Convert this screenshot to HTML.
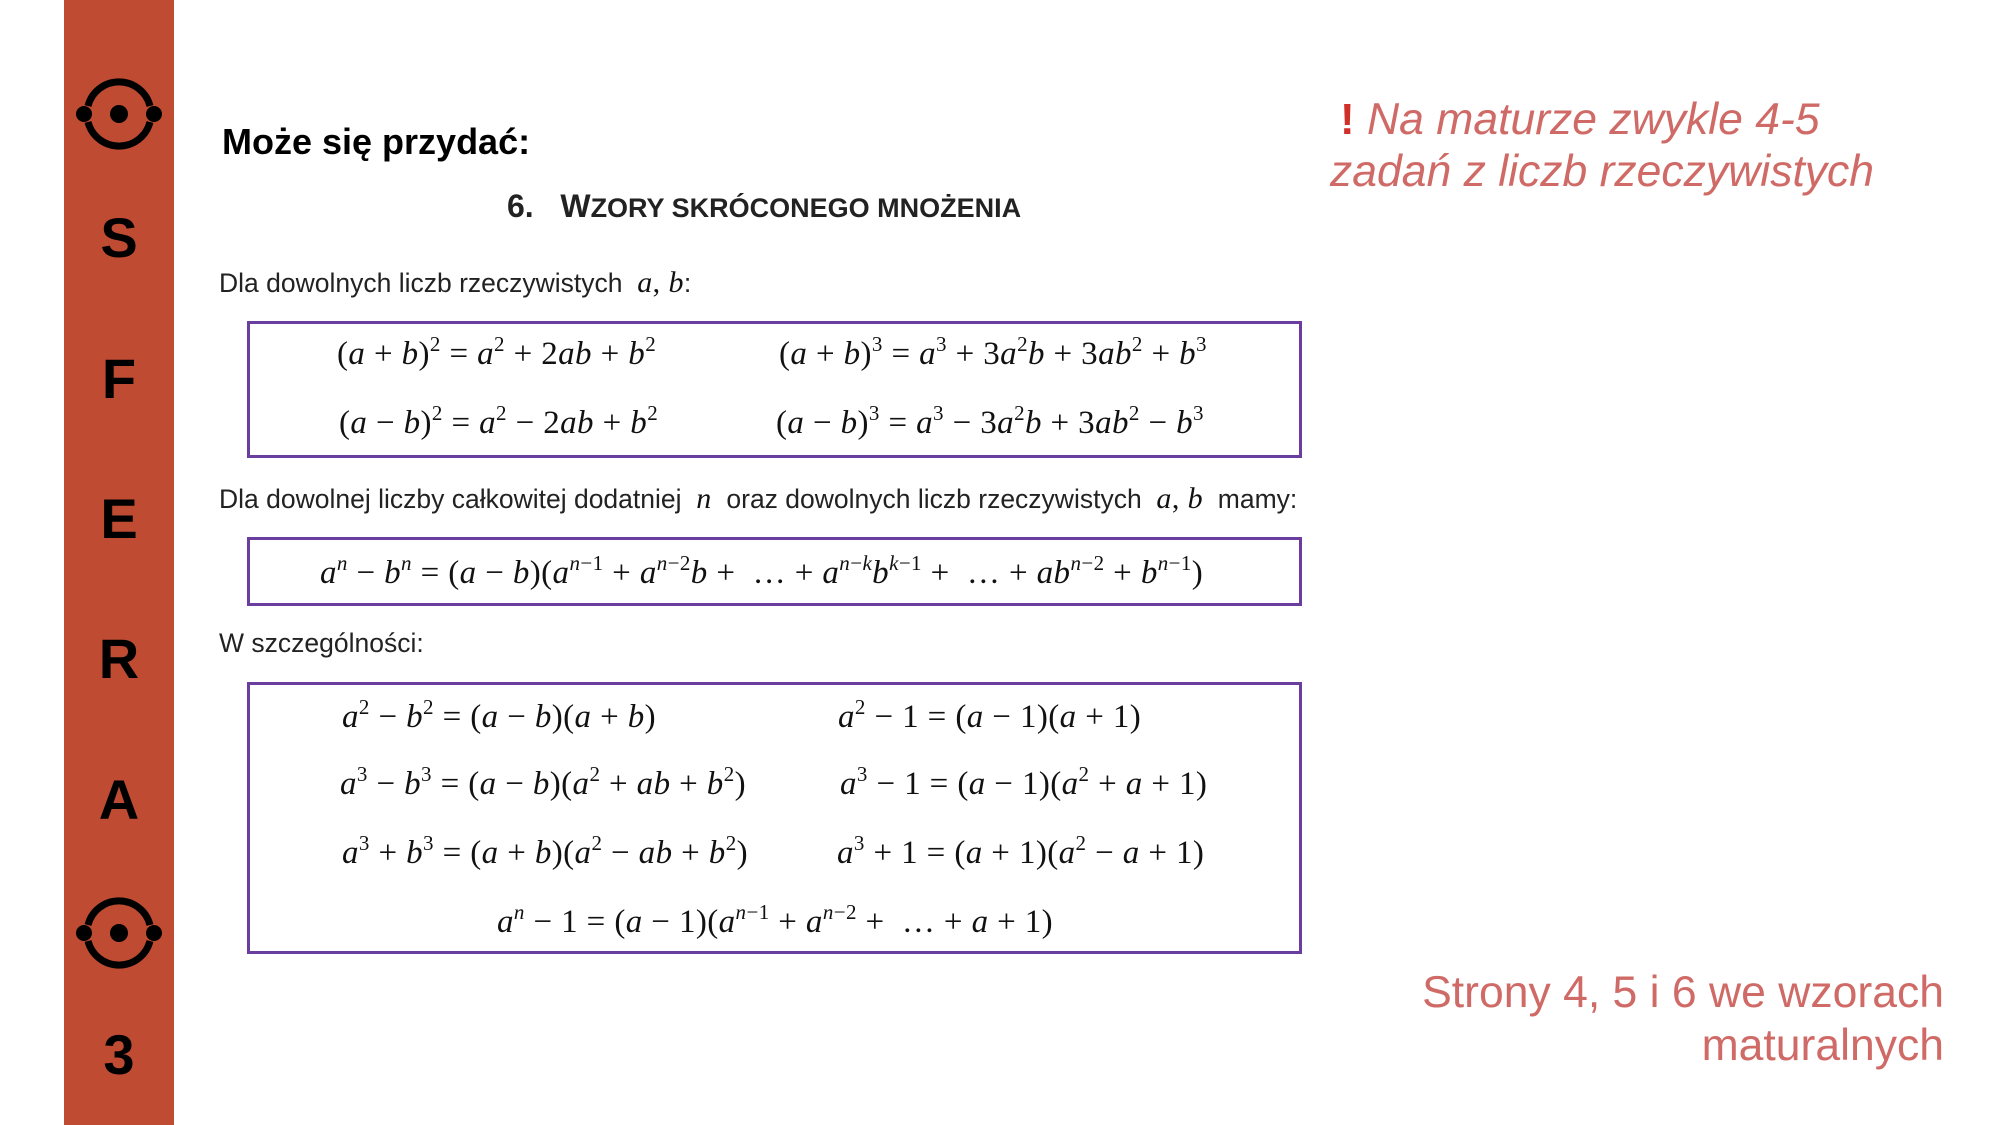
<!DOCTYPE html>
<html><head><meta charset="utf-8"><style>
html,body{margin:0;padding:0;}
body{width:2000px;height:1125px;position:relative;background:#fff;overflow:hidden;font-family:"Liberation Sans",sans-serif;}
.bar{position:absolute;left:64px;top:0;width:110px;height:1125px;background:#be4b32;}
.L{position:absolute;left:64px;width:110px;text-align:center;font-weight:bold;font-size:56px;color:#000;line-height:1;}
.a{position:absolute;white-space:nowrap;line-height:1;}
.m{font-family:"Liberation Serif",serif;font-size:33px;color:#111;letter-spacing:0.4px;}
.m i{font-style:italic;}
sup{font-size:21px;vertical-align:0;position:relative;top:-13px;}
.box{position:absolute;border:3px solid #6a3d9e;box-sizing:border-box;}
.t{font-size:26.5px;color:#222;}
.red{color:#cf6a66;font-size:44.5px;}
</style></head><body>
<div class="bar"></div>
<svg style="position:absolute;left:74px;top:68px" width="90" height="90" viewBox="0 0 90 90">
<path d="M14 38 A32 32 0 0 1 76 38" fill="none" stroke="#000" stroke-width="7"/>
<path d="M14 54 A32 32 0 0 0 76 54" fill="none" stroke="#000" stroke-width="7"/>
<circle cx="10" cy="46" r="8"/><circle cx="45" cy="46" r="9"/><circle cx="80" cy="46" r="8"/></svg>
<svg style="position:absolute;left:74px;top:887px" width="90" height="90" viewBox="0 0 90 90">
<path d="M14 38 A32 32 0 0 1 76 38" fill="none" stroke="#000" stroke-width="7"/>
<path d="M14 54 A32 32 0 0 0 76 54" fill="none" stroke="#000" stroke-width="7"/>
<circle cx="10" cy="46" r="8"/><circle cx="45" cy="46" r="9"/><circle cx="80" cy="46" r="8"/></svg>
<div class="L" style="top:210px">S</div>
<div class="L" style="top:351px">F</div>
<div class="L" style="top:491px">E</div>
<div class="L" style="top:631px">R</div>
<div class="L" style="top:772px">A</div>
<div class="L" style="top:1027px">3</div>

<div class="a" style="left:222px;top:124px;font-size:36px;font-weight:bold;">Może się przydać:</div>
<div class="a" style="left:507px;top:190px;font-size:32px;font-weight:bold;color:#222;">6.&nbsp;&nbsp;&nbsp;W<span style="font-size:27px">ZORY SKRÓCONEGO MNOŻENIA</span></div>
<div class="a t" style="left:219px;top:268px">Dla dowolnych liczb rzeczywistych &nbsp;<span class="m" style="font-size:30px"><i>a</i>, <i>b</i></span>:</div>

<div class="box" style="left:247px;top:321px;width:1055px;height:137px"></div>
<div class="a m" style="left:337px;top:338px">(<i>a</i> + <i>b</i>)<sup>2</sup> = <i>a</i><sup>2</sup> + 2<i>ab</i> + <i>b</i><sup>2</sup></div>
<div class="a m" style="left:779px;top:338px">(<i>a</i> + <i>b</i>)<sup>3</sup> = <i>a</i><sup>3</sup> + 3<i>a</i><sup>2</sup><i>b</i> + 3<i>ab</i><sup>2</sup> + <i>b</i><sup>3</sup></div>
<div class="a m" style="left:339px;top:407px">(<i>a</i> − <i>b</i>)<sup>2</sup> = <i>a</i><sup>2</sup> − 2<i>ab</i> + <i>b</i><sup>2</sup></div>
<div class="a m" style="left:776px;top:407px">(<i>a</i> − <i>b</i>)<sup>3</sup> = <i>a</i><sup>3</sup> − 3<i>a</i><sup>2</sup><i>b</i> + 3<i>ab</i><sup>2</sup> − <i>b</i><sup>3</sup></div>

<div class="a t" style="left:219px;top:484px">Dla dowolnej liczby całkowitej dodatniej &nbsp;<span class="m" style="font-size:30px"><i>n</i></span>&nbsp; oraz dowolnych liczb rzeczywistych &nbsp;<span class="m" style="font-size:30px"><i>a</i>, <i>b</i></span>&nbsp; mamy:</div>

<div class="box" style="left:247px;top:537px;width:1055px;height:69px"></div>
<div class="a m" style="left:320px;top:557px"><i>a</i><sup><i>n</i></sup> − <i>b</i><sup><i>n</i></sup> = (<i>a</i> − <i>b</i>)(<i>a</i><sup><i>n</i>−1</sup> + <i>a</i><sup><i>n</i>−2</sup><i>b</i> + &nbsp;… + <i>a</i><sup><i>n</i>−<i>k</i></sup><i>b</i><sup><i>k</i>−1</sup> + &nbsp;… + <i>ab</i><sup><i>n</i>−2</sup> + <i>b</i><sup><i>n</i>−1</sup>)</div>

<div class="a t" style="left:219px;top:630px">W szczególności:</div>

<div class="box" style="left:247px;top:682px;width:1055px;height:272px"></div>
<div class="a m" style="left:342px;top:701px"><i>a</i><sup>2</sup> − <i>b</i><sup>2</sup> = (<i>a</i> − <i>b</i>)(<i>a</i> + <i>b</i>)</div>
<div class="a m" style="left:838px;top:701px"><i>a</i><sup>2</sup> − 1 = (<i>a</i> − 1)(<i>a</i> + 1)</div>
<div class="a m" style="left:340px;top:768px"><i>a</i><sup>3</sup> − <i>b</i><sup>3</sup> = (<i>a</i> − <i>b</i>)(<i>a</i><sup>2</sup> + <i>ab</i> + <i>b</i><sup>2</sup>)</div>
<div class="a m" style="left:840px;top:768px"><i>a</i><sup>3</sup> − 1 = (<i>a</i> − 1)(<i>a</i><sup>2</sup> + <i>a</i> + 1)</div>
<div class="a m" style="left:342px;top:837px"><i>a</i><sup>3</sup> + <i>b</i><sup>3</sup> = (<i>a</i> + <i>b</i>)(<i>a</i><sup>2</sup> − <i>ab</i> + <i>b</i><sup>2</sup>)</div>
<div class="a m" style="left:837px;top:837px"><i>a</i><sup>3</sup> + 1 = (<i>a</i> + 1)(<i>a</i><sup>2</sup> − <i>a</i> + 1)</div>
<div class="a m" style="left:497px;top:906px"><i>a</i><sup><i>n</i></sup> − 1 = (<i>a</i> − 1)(<i>a</i><sup><i>n</i>−1</sup> + <i>a</i><sup><i>n</i>−2</sup> + &nbsp;… + <i>a</i> + 1)</div>

<div class="a red" style="left:1340px;top:98px;font-style:italic"><span style="font-style:normal;color:#d0302a;font-weight:bold;font-size:44px">!</span> Na maturze zwykle 4-5</div>
<div class="a red" style="left:1330px;top:150px;font-style:italic">zadań z liczb rzeczywistych</div>
<div class="a red" style="right:56px;top:971px;text-align:right">Strony 4, 5 i 6 we wzorach</div>
<div class="a red" style="right:56px;top:1024px;text-align:right">maturalnych</div>
</body></html>
